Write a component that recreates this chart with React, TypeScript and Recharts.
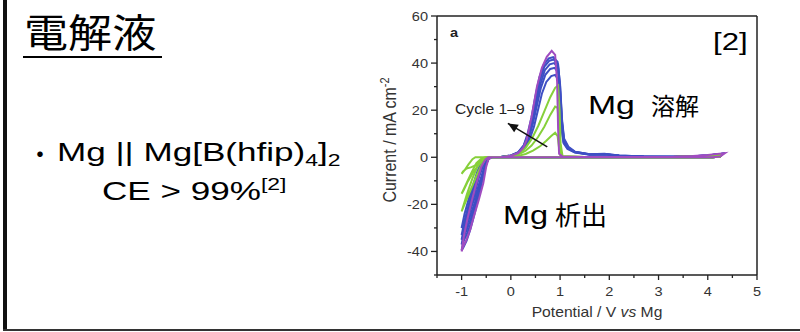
import React from 'react';
import { LineChart, Line, XAxis, YAxis, ReferenceLine } from 'recharts';

type Pt = { v: number; i: number };
const P = (v: number, i: number): Pt => ({ v, i });

// Axis ticks (major + minor) and labels
const xTicks = [-1.5, -1, -0.5, 0, 0.5, 1, 1.5, 2, 2.5, 3, 3.5, 4, 4.5, 5];
const xLabels: Record<string, string> = { '-1': '-1', '0': '0', '1': '1', '2': '2', '3': '3', '4': '4', '5': '5' };
const yTicks = [-50, -40, -30, -20, -10, 0, 10, 20, 30, 40, 50, 60];
const yLabels: Record<string, string> = { '-40': '-40', '-20': '-20', '0': '0', '20': '20', '40': '40', '60': '60' };

// Reverse (negative-going) sweep from 4.3 V back to start, shared by all cycles
const reverseSweep: Pt[] = [
  P(4.25, 0.3), P(4.1, 0.05), P(3.5, 0), P(2.5, 0), P(1.5, 0), P(1.0, 0), P(0.5, 0), P(0, 0), P(-0.3, 0),
];

// Green cycles (early cycles)
const cycleG1: Pt[] = [
  P(-0.3, 0), P(-0.5, 0), P(-0.72, 0), P(-0.78, -0.8), P(-0.86, -3), P(-0.94, -5.5), P(-1.0, -7),
  P(-0.97, -6), P(-0.9, -4.8), P(-0.8, -4.2), P(-0.7, -3.3), P(-0.62, -1.8), P(-0.55, -0.5), P(-0.48, 0),
  P(-0.2, 0), P(0, 0.2), P(0.15, 0.6), P(0.3, 1.4), P(0.45, 2.8), P(0.6, 4.8), P(0.72, 7), P(0.82, 9),
  P(0.9, 10.4), P(0.95, 9), P(0.98, 4), P(1.0, 1), P(1.05, 0.2), P(1.5, 0.1), P(2.5, 0.1), P(3.3, 0.1),
  P(3.7, 0.3), P(4.0, 0.7), P(4.3, 1.3),
];
const cycleG2: Pt[] = [
  P(-0.3, 0), P(-0.52, 0), P(-0.6, -0.6), P(-0.7, -2.5), P(-0.8, -6.5), P(-0.9, -11), P(-1.0, -15.5),
  P(-0.96, -14), P(-0.88, -10.5), P(-0.78, -7), P(-0.68, -4), P(-0.6, -1.8), P(-0.52, -0.4), P(-0.45, 0),
  P(-0.2, 0.05), P(0, 0.4), P(0.15, 1.2), P(0.3, 2.8), P(0.42, 5), P(0.55, 8.5), P(0.68, 13), P(0.8, 18),
  P(0.9, 21.5), P(0.95, 21), P(0.98, 12), P(1.0, 3), P(1.05, 0.3), P(1.5, 0.1), P(2.5, 0.1), P(3.3, 0.1),
  P(3.7, 0.3), P(4.0, 0.7), P(4.3, 1.3),
];
const cycleG3: Pt[] = [
  P(-0.3, 0), P(-0.5, 0), P(-0.58, -1), P(-0.68, -4), P(-0.78, -9), P(-0.89, -15.5), P(-1.0, -23),
  P(-0.96, -21), P(-0.88, -17), P(-0.78, -12), P(-0.68, -7), P(-0.59, -3), P(-0.51, -0.6), P(-0.44, 0),
  P(-0.2, 0.1), P(0, 0.6), P(0.15, 1.6), P(0.3, 4), P(0.43, 8), P(0.56, 13.5), P(0.68, 19.5), P(0.8, 25.5),
  P(0.9, 29.5), P(0.96, 30.5), P(0.99, 20), P(1.01, 6), P(1.05, 0.5), P(1.5, 0.1), P(2.5, 0.1), P(3.3, 0.1),
  P(3.7, 0.3), P(4.0, 0.7), P(4.3, 1.4),
];

// Blue cycles (middle cycles)
const cycleB1: Pt[] = [
  P(-0.3, 0), P(-0.45, 0), P(-0.52, -0.6), P(-0.6, -2.5), P(-0.68, -6), P(-0.77, -12), P(-0.86, -18), P(-0.94, -24), P(-1.0, -30),
  P(-0.97, -29), P(-0.9, -26), P(-0.82, -22), P(-0.73, -17), P(-0.64, -11), P(-0.56, -5.5), P(-0.5, -1.8), P(-0.45, -0.3), P(-0.38, 0),
  P(-0.2, 0.1), P(0, 0.6), P(0.15, 1.6), P(0.28, 3.8), P(0.38, 7.5), P(0.47, 13), P(0.55, 20), P(0.63, 27), P(0.72, 32),
  P(0.82, 34.5), P(0.9, 35), P(0.96, 33), P(1.0, 24), P(1.03, 12), P(1.07, 6), P(1.15, 3.5), P(1.3, 2), P(1.6, 1.1),
  P(1.9, 1.2), P(2.2, 0.6), P(2.7, 0.3), P(3.3, 0.2), P(3.7, 0.4), P(4.0, 0.8), P(4.3, 1.5),
];
const cycleB2: Pt[] = [
  P(-0.3, 0), P(-0.45, 0), P(-0.51, -0.7), P(-0.59, -2.8), P(-0.67, -6.5), P(-0.76, -13), P(-0.85, -19.5), P(-0.93, -26), P(-1.0, -33),
  P(-0.97, -32), P(-0.9, -29), P(-0.82, -24.5), P(-0.73, -19), P(-0.64, -12.5), P(-0.56, -6.5), P(-0.5, -2.2), P(-0.45, -0.4), P(-0.38, 0),
  P(-0.2, 0.1), P(0, 0.7), P(0.15, 1.8), P(0.27, 4.2), P(0.37, 8.5), P(0.45, 14.5), P(0.53, 22), P(0.61, 29.5), P(0.7, 35),
  P(0.8, 37.5), P(0.89, 38), P(0.96, 36), P(1.0, 26), P(1.03, 13), P(1.07, 6.5), P(1.15, 3.8), P(1.3, 2.1), P(1.6, 1.2),
  P(1.9, 1.3), P(2.2, 0.7), P(2.7, 0.3), P(3.3, 0.2), P(3.7, 0.4), P(4.0, 0.8), P(4.3, 1.5),
];
const cycleB3: Pt[] = [
  P(-0.3, 0), P(-0.44, 0), P(-0.5, -0.8), P(-0.58, -3), P(-0.66, -7), P(-0.75, -13.5), P(-0.85, -21), P(-0.93, -27.5), P(-1.0, -35),
  P(-0.97, -34), P(-0.9, -31), P(-0.82, -26.5), P(-0.73, -20.5), P(-0.64, -13.5), P(-0.56, -7), P(-0.5, -2.5), P(-0.45, -0.5), P(-0.38, 0),
  P(-0.2, 0.1), P(0, 0.7), P(0.15, 2), P(0.27, 4.6), P(0.36, 9), P(0.44, 15.5), P(0.52, 23.5), P(0.6, 31), P(0.69, 37),
  P(0.79, 39.5), P(0.88, 40), P(0.96, 38), P(1.0, 28), P(1.04, 14), P(1.08, 7), P(1.16, 4), P(1.3, 2.2), P(1.6, 1.2),
  P(1.9, 1.3), P(2.2, 0.7), P(2.7, 0.3), P(3.3, 0.2), P(3.7, 0.4), P(4.0, 0.8), P(4.3, 1.5),
];
const cycleB4: Pt[] = [
  P(-0.3, 0), P(-0.44, 0), P(-0.5, -0.9), P(-0.57, -3.2), P(-0.65, -7.5), P(-0.74, -14), P(-0.84, -22), P(-0.93, -29), P(-1.0, -37),
  P(-0.97, -36), P(-0.9, -33), P(-0.82, -28.5), P(-0.73, -22), P(-0.64, -14.5), P(-0.56, -7.5), P(-0.5, -2.8), P(-0.45, -0.6), P(-0.38, 0),
  P(-0.2, 0.1), P(0, 0.8), P(0.15, 2.1), P(0.26, 4.8), P(0.35, 9.5), P(0.43, 16), P(0.51, 24.5), P(0.59, 32.5), P(0.68, 38.5),
  P(0.78, 41), P(0.87, 41.5), P(0.96, 39.5), P(1.0, 30), P(1.04, 15), P(1.08, 7.5), P(1.16, 4.2), P(1.3, 2.3), P(1.6, 1.3),
  P(1.9, 1.4), P(2.2, 0.8), P(2.7, 0.3), P(3.3, 0.2), P(3.7, 0.4), P(4.0, 0.8), P(4.3, 1.5),
];
const cycleB5: Pt[] = [
  P(-0.3, 0), P(-0.44, 0), P(-0.49, -1), P(-0.56, -3.5), P(-0.64, -8), P(-0.73, -15), P(-0.83, -23), P(-0.92, -31), P(-1.0, -39.5),
  P(-0.97, -38.5), P(-0.9, -35.5), P(-0.82, -30.5), P(-0.73, -23.5), P(-0.64, -15.5), P(-0.56, -8), P(-0.5, -3), P(-0.45, -0.7), P(-0.38, 0),
  P(-0.2, 0.1), P(0, 0.8), P(0.15, 2.2), P(0.26, 5), P(0.34, 10), P(0.42, 17), P(0.5, 26), P(0.58, 34), P(0.67, 39.5),
  P(0.77, 42), P(0.86, 42.5), P(0.95, 40.5), P(1.0, 31), P(1.04, 16), P(1.08, 8), P(1.17, 4.5), P(1.3, 2.4), P(1.6, 1.3),
  P(1.9, 1.5), P(2.2, 0.8), P(2.7, 0.3), P(3.3, 0.2), P(3.7, 0.4), P(4.0, 0.8), P(4.3, 1.5),
];

// Magenta (last) cycle
const cycleM: Pt[] = [
  P(-0.3, 0), P(-0.46, 0), P(-0.52, -1), P(-0.6, -4), P(-0.7, -11), P(-0.8, -19), P(-0.88, -26), P(-0.95, -33), P(-1.0, -40),
  P(-0.97, -38), P(-0.9, -35), P(-0.83, -31), P(-0.75, -25), P(-0.65, -18), P(-0.56, -11), P(-0.5, -4), P(-0.46, -1), P(-0.4, 0),
  P(-0.2, 0), P(0, 0.6), P(0.15, 1.8), P(0.25, 4), P(0.32, 7.3), P(0.42, 17), P(0.53, 30), P(0.63, 38), P(0.73, 42.7),
  P(0.83, 45.2), P(0.9, 43.5), P(0.94, 32), P(0.96, 12), P(0.98, 1.5), P(1.05, 0.3), P(1.5, 0.1), P(2.5, 0.1),
  P(3.3, 0.2), P(3.7, 0.5), P(4.0, 1.0), P(4.35, 1.8),
];

// "Cycle 1–9" arrow (tail -> head, in data units)
const arrowPts: Pt[] = [P(0.74, 4.4), P(-0.06, 14.4)];

const GREEN = '#86D03A';
const BLUE = '#3E4FC4';
const MAGENTA = '#A04CC0';

const blueCycles = [cycleB1, cycleB2, cycleB3, cycleB4, cycleB5].map((c) => [...c, ...reverseSweep]);
const greenCycles = [cycleG1, cycleG2, cycleG3].map((c) => [...c, ...reverseSweep]);
const magentaCycle = [...cycleM, ...reverseSweep];

const AX = '#222';
const TXT = '#333';
const CH = 1.12; // chart-image horizontal stretch
const SL = 1.35; // slide Latin text horizontal stretch
const LATIN = 'Liberation Sans, Arial, sans-serif';
const CJK = 'Noto Sans CJK JP, sans-serif';

const XTick = (props: any) => {
  const { x, y, payload } = props;
  const lab = xLabels[String(payload.value)];
  const len = lab !== undefined ? 5 : 3;
  return (
    <g>
      <line x1={x} x2={x} y1={y} y2={y + len} stroke={AX} strokeWidth={1.3} />
      {lab !== undefined && (
        <text transform={`translate(${x},${y + 21}) scale(${CH},1)`} textAnchor="middle" fontSize={13} fill={TXT} fontFamily={LATIN}>
          {lab}
        </text>
      )}
    </g>
  );
};

const YTick = (props: any) => {
  const { x, y, payload } = props;
  const lab = yLabels[String(payload.value)];
  const len = lab !== undefined ? 6 : 3;
  return (
    <g>
      <line x1={x} x2={x - len} y1={y} y2={y} stroke={AX} strokeWidth={1.3} />
      {lab !== undefined && (
        <text transform={`translate(${x - 9},${y + 4.5}) scale(${CH},1)`} textAnchor="end" fontSize={13} fill={TXT} fontFamily={LATIN}>
          {lab}
        </text>
      )}
    </g>
  );
};

const ArrowHead = (props: any) => {
  const { cx, cy, index } = props;
  if (index !== arrowPts.length - 1) return <g key={`ah${index}`} />;
  return (
    <polygon key={`ah${index}`} points="0,0 -10,-4.5 -10,4.5" fill="#111" transform={`translate(${cx},${cy}) rotate(-149)`} />
  );
};

export default function App() {
  return (
    <div style={{ position: 'absolute', left: 0, top: 0, width: 800, height: 332, background: '#fff', overflow: 'hidden' }}>
      <div style={{ position: 'absolute', left: 370, top: 0 }}>
        <LineChart width={400} height={332} margin={{ top: 16, right: 13, bottom: 0, left: 0 }}>
          <XAxis
            dataKey="v"
            type="number"
            domain={[-1.5, 5]}
            ticks={xTicks}
            interval={0}
            allowDataOverflow
            height={57}
            tickSize={0}
            tickMargin={0}
            tickLine={false}
            tick={<XTick />}
            axisLine={{ stroke: AX, strokeWidth: 1.5 }}
          />
          <YAxis
            type="number"
            domain={[-50, 60]}
            ticks={yTicks}
            interval={0}
            allowDataOverflow
            width={67}
            tickSize={0}
            tickMargin={0}
            tickLine={false}
            tick={<YTick />}
            axisLine={{ stroke: AX, strokeWidth: 1.5 }}
          />
          <ReferenceLine y={60} stroke={AX} strokeWidth={1.5} />
          <ReferenceLine x={5} stroke={AX} strokeWidth={1.5} />
          {blueCycles.map((c, k) => (
            <Line key={`b${k}`} data={c} dataKey="i" type="linear" stroke={BLUE} strokeWidth={2} dot={false} isAnimationActive={false} />
          ))}
          {greenCycles.map((c, k) => (
            <Line key={`g${k}`} data={c} dataKey="i" type="linear" stroke={GREEN} strokeWidth={2} dot={false} isAnimationActive={false} />
          ))}
          <Line data={magentaCycle} dataKey="i" type="linear" stroke={MAGENTA} strokeWidth={2} dot={false} isAnimationActive={false} />
          <Line data={arrowPts} dataKey="i" type="linear" stroke="#111" strokeWidth={1.6} dot={<ArrowHead />} isAnimationActive={false} />
        </LineChart>
      </div>

      <svg width={800} height={332} style={{ position: 'absolute', left: 0, top: 0, pointerEvents: 'none' }}>
        {/* slide frame */}
        <rect x={3} y={0} width={4} height={331} fill="#111" />
        <rect x={3} y={329} width={797} height={2} fill="#333" />

        {/* left panel */}
        <text transform={`translate(24,47) scale(1.13,1)`} fontSize={39} fontFamily={CJK} fill="#000">電解液</text>
        <line x1={23} x2={162} y1={57} y2={57} stroke="#000" strokeWidth={2} />
        <text x={40} y={164} textAnchor="middle" fontSize={26} fontFamily={CJK} fill="#000">・</text>
        <text transform={`translate(57,161) scale(${SL},1)`} fontSize={26} fontFamily={LATIN} fill="#000">
          Mg || Mg[B(hfip)<tspan fontSize={17} dy={5}>4</tspan>
          <tspan dy={-5}>]</tspan>
          <tspan fontSize={17} dy={5}>2</tspan>
        </text>
        <text transform={`translate(102,200) scale(${SL},1)`} fontSize={26} fontFamily={LATIN} fill="#000">
          CE &gt; 99%<tspan fontSize={17} dy={-10}>[2]</tspan>
        </text>

        {/* chart annotations from the figure */}
        <text transform={`translate(450,37) scale(${CH},1)`} fontSize={13} fontWeight="bold" fontFamily={LATIN} fill="#222">a</text>
        <text transform={`translate(455,114) scale(${CH},1)`} fontSize={14} fontFamily={LATIN} fill="#222">Cycle 1–9</text>
        <text transform={`translate(597,317) scale(${CH},1)`} textAnchor="middle" fontSize={14} fontFamily={LATIN} fill={TXT}>
          Potential / V <tspan fontStyle="italic">vs</tspan> Mg
        </text>
        <text transform={`translate(396,140) scale(${CH},1) rotate(-90)`} textAnchor="middle" fontSize={16} fontFamily={LATIN} fill={TXT}>
          Current / mA cm<tspan fontSize={11} dy={-6}>-2</tspan>
        </text>

        {/* slide annotations */}
        <text transform={`translate(713,50) scale(1.3,1)`} fontSize={24} fontFamily={LATIN} fill="#000">[2]</text>
        <text transform={`translate(588,114) scale(${SL},1)`} fontSize={25} fontFamily={LATIN} fill="#000">Mg</text>
        <text x={651} y={115} fontSize={24} fontFamily={CJK} fill="#000">溶解</text>
        <text transform={`translate(503,224) scale(1.3,1)`} fontSize={25} fontFamily={LATIN} fill="#000">Mg</text>
        <text x={555} y={225} fontSize={26} fontFamily={CJK} fill="#000">析出</text>
      </svg>
    </div>
  );
}
